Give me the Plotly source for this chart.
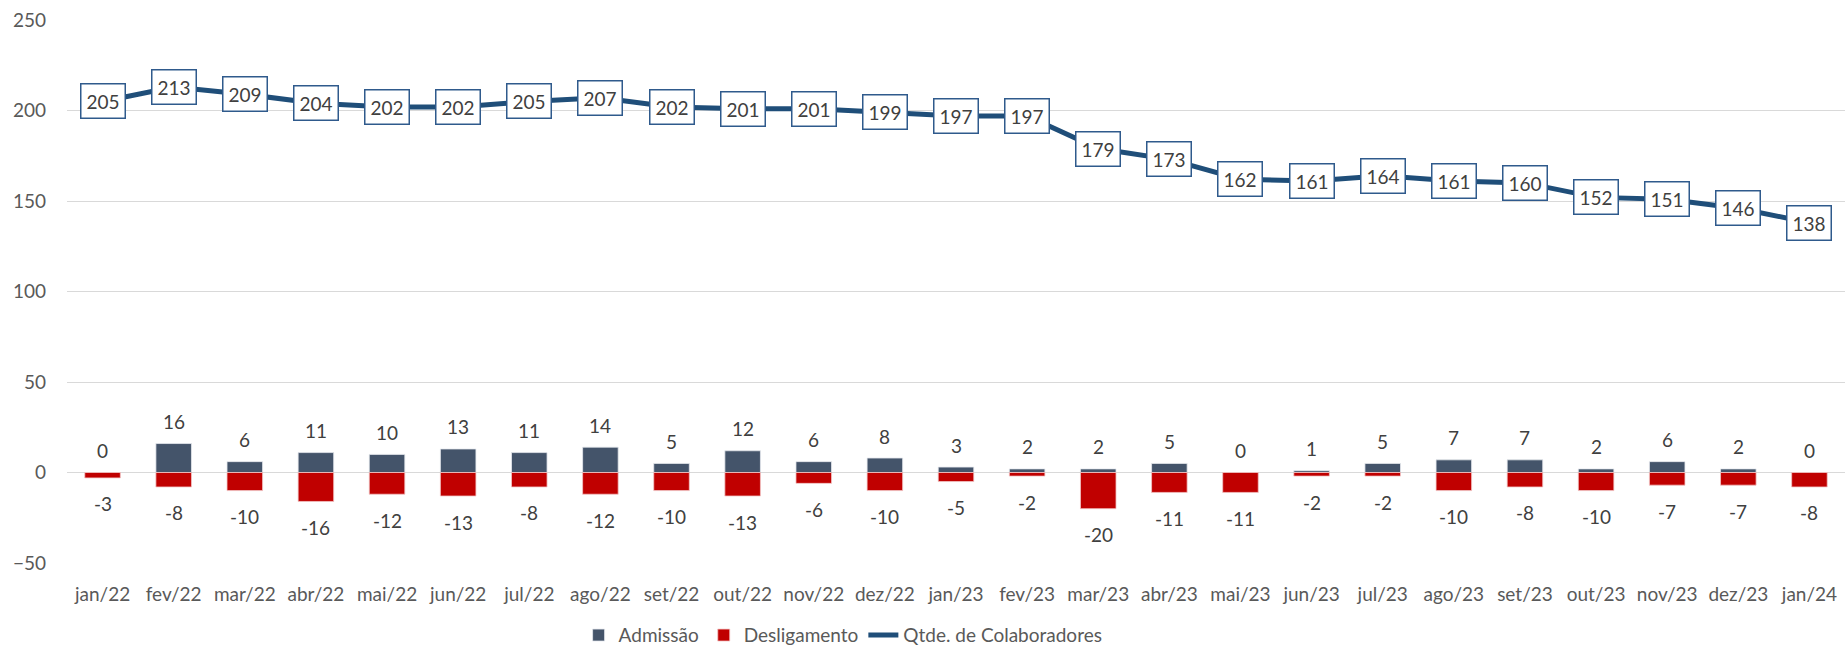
import plotly.graph_objects as go

categories = ["jan/22", "fev/22", "mar/22", "abr/22", "mai/22", "jun/22", "jul/22", "ago/22",
              "set/22", "out/22", "nov/22", "dez/22", "jan/23", "fev/23", "mar/23", "abr/23",
              "mai/23", "jun/23", "jul/23", "ago/23", "set/23", "out/23", "nov/23", "dez/23", "jan/24"]
admissao = [0, 16, 6, 11, 10, 13, 11, 14, 5, 12, 6, 8, 3, 2, 2, 5, 0, 1, 5, 7, 7, 2, 6, 2, 0]
desligamento = [-3, -8, -10, -16, -12, -13, -8, -12, -10, -13, -6, -10, -5, -2, -20, -11, -11,
                -2, -2, -10, -8, -10, -7, -7, -8]
colaboradores = [205, 213, 209, 204, 202, 202, 205, 207, 202, 201, 201, 199, 197, 197, 179, 173,
                 162, 161, 164, 161, 160, 152, 151, 146, 138]
y_ticks = [-50, 0, 50, 100, 150, 200, 250]

FONT = "Lato"
TXT = "#404040"

fig = go.Figure()
fig.add_trace(go.Bar(x=categories, y=admissao, name="Admissão",
                     marker=dict(color="#44546A", line=dict(color="#E6E9EE", width=0.8)),
                     width=0.5))
fig.add_trace(go.Bar(x=categories, y=desligamento, name="Desligamento",
                     marker=dict(color="#C00000", line=dict(color="#F2C6C6", width=0.8)),
                     width=0.5))
fig.add_trace(go.Scatter(x=categories, y=colaboradores, name="Qtde. de Colaboradores",
                         mode="lines", line=dict(color="#1F4E79", width=5)))

annotations = []
for c, a, d, q in zip(categories, admissao, desligamento, colaboradores):
    annotations.append(dict(x=c, y=a, text=str(a), showarrow=False, yshift=22,
                            yanchor="middle", font=dict(family=FONT, size=19, color=TXT)))
    annotations.append(dict(x=c, y=d, text=str(d), showarrow=False, yshift=-26,
                            yanchor="middle", font=dict(family=FONT, size=19, color=TXT)))
    annotations.append(dict(x=c, y=q, text=str(q), showarrow=False, yanchor="middle",
                            bgcolor="white", bordercolor="#2F5A8C", borderwidth=1.5,
                            borderpad=5, font=dict(family=FONT, size=19, color=TXT)))

fig.update_layout(
    width=1845, height=650,
    barmode="relative",
    bargap=0.5,
    plot_bgcolor="white", paper_bgcolor="white",
    margin=dict(l=67, r=0, t=20, b=87, autoexpand=False),
    font=dict(family=FONT, size=19, color="#595959"),
    annotations=annotations,
    legend=dict(orientation="h", x=0.4365, xanchor="center", y=-0.133, yanchor="middle",
                font=dict(family=FONT, size=19, color="#595959"), traceorder="normal",
                itemwidth=30),
    xaxis=dict(showgrid=False, showline=False, ticks="", ticklabelstandoff=18,
               tickfont=dict(family=FONT, size=19, color="#595959")),
    yaxis=dict(range=[-50, 250], tickvals=y_ticks, showgrid=True, gridcolor="#D9D9D9",
               gridwidth=1.3, zeroline=True, zerolinecolor="#D9D9D9", zerolinewidth=1.3,
               showline=False, ticks="", ticklabelstandoff=20, ticklabeloverflow="allow",
               tickfont=dict(family=FONT, size=19, color="#595959")),
)

fig.write_html("out.html", config={"displayModeBar": False},
               post_script="document.body.style.margin='0';")
